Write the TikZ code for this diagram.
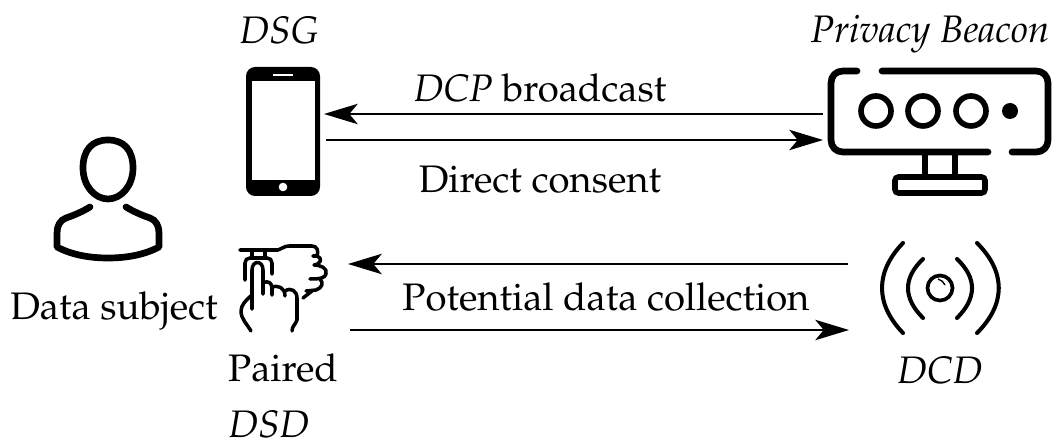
\documentclass[tikz,border=0pt]{standalone}
\usepackage[T1]{fontenc}
\usepackage{mathpazo}
\usetikzlibrary{arrows.meta}
\begin{document}
\begin{tikzpicture}[x=0.01cm,y=-0.01cm]
	\tikzstyle{lbl} = [inner sep=0, font=\fontsize{10.9}{13}\selectfont]
	\tikzstyle{icon} = [line width=1.9pt, line cap=round, line join=round]
	\tikzstyle{thin icon} = [line width=1pt, line cap=round, line join=round]
	\tikzstyle{flow} = [line width=0.55pt, -{Stealth[length=9.6pt,width=5.8pt,inset=2.4pt]}]
	\useasboundingbox (0,0) rectangle (1052,443);

	% labels
	\node [lbl] (dsg) at (279,30) {\textit{DSG}};
	\node [lbl] (beacon) at (930,34) {\textit{Privacy Beacon}};
	\node [lbl] (dcp) at (540,88) {\textit{DCP} broadcast};
	\node [lbl] (direct) at (540,180) {Direct consent};
	\node [lbl] (subject) at (114,311) {Data subject};
	\node [lbl] (potential) at (606,297) {Potential data collection};
	\node [lbl] (paired) at (283,368) {Paired};
	\node [lbl] (dsd) at (269,424) {\textit{DSD}};
	\node [lbl] (dcd) at (940,370) {\textit{DCD}};

	% data subject
	\draw [icon] (108,140) .. controls (92,140) and (83,150) .. (83,168) .. controls (83,186) and (95,199) .. (108,199) .. controls (121,199) and (133,186) .. (133,168) .. controls (133,150) and (124,140) .. (108,140) -- cycle;
	\draw [icon] (90,207) .. controls (82,212) and (72,216) .. (66,218) .. controls (60,220) and (57,226) .. (57,233) -- (57,247) .. controls (72,255) and (90,258) .. (108,258) .. controls (126,258) and (144,255) .. (159,247) -- (159,233) .. controls (159,226) and (156,220) .. (150,218) .. controls (144,216) and (134,212) .. (126,207);

	% phone
	\fill [black, rounded corners=2.6pt] (246,67) rectangle (320,196);
	\fill [white] (252,81) rectangle (315,180);
	\fill [white] (273,74.2) rectangle (293,76);
	\fill [white] (283,187) circle [radius=4.3];

	% beacon
	\draw [icon] (857,71) -- (843,71) .. controls (836,71) and (831,76) .. (831,83) -- (831,140) .. controls (831,147) and (836,152) .. (843,152) -- (988,152);
	\draw [icon] (882,71) -- (1036,71) .. controls (1043,71) and (1048,76) .. (1048,83) -- (1048,140) .. controls (1048,147) and (1043,152) .. (1036,152) -- (1012,152);
	\foreach \cx in {876,923,971}
		\draw [line width=1.6pt] (\cx,111) circle [radius=15];
	\fill (1010,111) circle [radius=8];
	\draw [line width=1.6pt] (925,152) -- (925,177) (955,152) -- (955,177);
	\draw [line width=1.6pt, rounded corners=1pt] (895,177) rectangle (985,193);

	% dcd
	\draw [line width=1.05pt] (940,288) circle [radius=12.5];
	\draw [line width=0.4pt] (938,279) .. controls (941,280) and (944,282) .. (945,285);
	\draw [icon, line width=1.15pt] (903,243) .. controls (875,272) and (875,304) .. (903,333);
	\draw [icon, line width=1.15pt] (923,259) .. controls (903,278) and (903,298) .. (923,318);
	\draw [icon, line width=1.15pt] (957,259) .. controls (977,278) and (977,298) .. (957,318);
	\draw [icon, line width=1.15pt] (977,243) .. controls (1006,272) and (1006,304) .. (977,333);

	% hand with watch
	\draw [thin icon] (240,250) -- (278,250) .. controls (282,249) and (284,246) .. (289,246) -- (312,246) .. controls (317,246) and (319,251) .. (317,256) -- (313,256);
	\draw [thin icon] (317,256) .. controls (323,258) and (321,264) .. (314,265) .. controls (320,265) and (328,268) .. (326,274) .. controls (325,278) and (320,279) .. (310,279);
	\draw [thin icon] (320,279) .. controls (324,283) and (322,288) .. (316,290) -- (306,291) (312,291) -- (303,298);
	\draw [thin icon] (252,250) -- (252,257) (265,250) -- (265,257);
	\draw [thin icon] (245,280) -- (245,263) .. controls (245,260) and (247,258) .. (250,258) -- (267,258) .. controls (270,258) and (272,260) .. (272,263) -- (272,274);
	\draw [thin icon] (252,309) -- (252,270) .. controls (252,260) and (263,260) .. (263,270) -- (263,294);
	\draw [thin icon] (263,283) .. controls (268,280) and (272,283) .. (272,288) -- (272,295);
	\draw [thin icon] (272,287) .. controls (277,285) and (285,287) .. (285,296);
	\draw [thin icon] (285,291) .. controls (291,287) and (297,291) .. (297,298) -- (297,320) .. controls (296,324) and (292,326) .. (292,331);
	\draw [thin icon] (252,295) .. controls (246,300) and (241,305) .. (241,311) .. controls (241,319) and (247,324) .. (251,331);

	% connector ends
	\coordinate (phoneIn) at (324,114);
	\coordinate (phoneOut) at (326,140);
	\coordinate (beaconOut) at (823,114);
	\coordinate (beaconIn) at (823,140);
	\coordinate (dsdIn) at (348,264);
	\coordinate (dsdOut) at (350,330);
	\coordinate (dcdOut) at (848,264);
	\coordinate (dcdIn) at (849,330);

	\draw [flow] (beaconOut) -- (phoneIn);
	\draw [flow] (phoneOut) -- (beaconIn);
	\draw [flow] (dcdOut) -- (dsdIn);
	\draw [flow] (dsdOut) -- (dcdIn);
\end{tikzpicture}
\end{document}
